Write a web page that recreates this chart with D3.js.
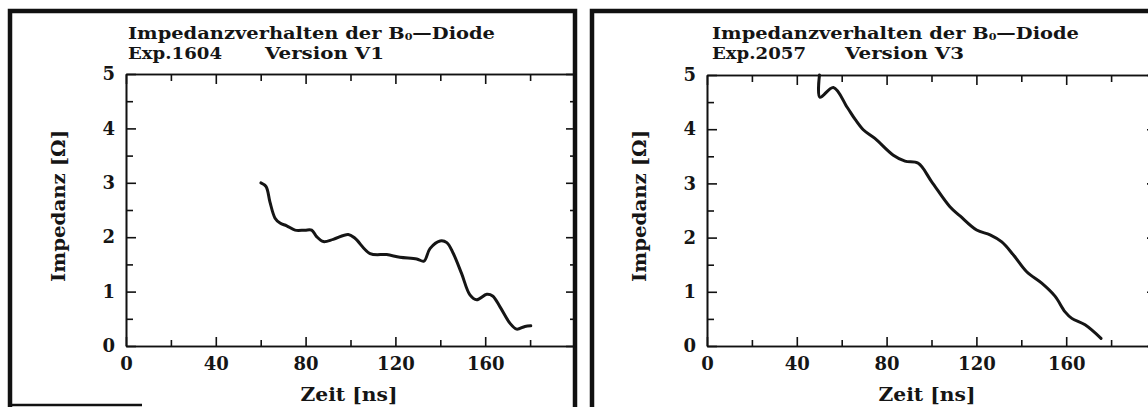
<!DOCTYPE html>
<html>
<head>
<meta charset="utf-8">
<script src="https://cdn.jsdelivr.net/npm/d3@7/dist/d3.min.js"></script>
<style>
  html, body { margin: 0; padding: 0; background: #fff; }
  svg { display: block; }
  text { font-family: "DejaVu Serif", serif; font-weight: bold; fill: #151515; }
</style>
</head>
<body>
<svg id="chart" width="1148" height="407"></svg>
<script>
// Impedance of the B0 diode, Exp.1604 (Version V1)
const timeV1 = [60.1, 62.4, 64.1, 66.4, 68.6, 71.6, 75.3, 79.7, 82.7, 84.9, 87.9, 92.3, 99.0, 102.0,
                108.7, 116.1, 122.0, 129.5, 132.7, 135.4, 139.9, 142.9, 145.8, 149.5, 153.2, 156.2,
                160.7, 163.3, 166.6, 171.0, 174.0, 177.7, 180.3];
const impedanceV1 = [3.00, 2.93, 2.65, 2.35, 2.26, 2.21, 2.13, 2.13, 2.13, 2.01, 1.92, 1.96, 2.05, 1.98,
                     1.70, 1.68, 1.63, 1.60, 1.56, 1.79, 1.93, 1.90, 1.70, 1.33, 0.94, 0.85,
                     0.95, 0.92, 0.72, 0.42, 0.31, 0.36, 0.37];

// Impedance of the B0 diode, Exp.2057 (Version V3)
const timeV3 = [50.1, 50.3, 56.3, 62.5, 66.0, 69.6, 74.8, 83.0, 88.2, 94.1, 100.1, 108.2, 112.7,
                120.1, 126.1, 131.3, 136.5, 142.4, 149.1, 155.0, 159.5, 162.5, 168.4, 175.5];
const impedanceV3 = [5.00, 4.59, 4.77, 4.40, 4.18, 3.99, 3.83, 3.52, 3.41, 3.37, 3.03, 2.57, 2.40,
                     2.14, 2.05, 1.92, 1.68, 1.37, 1.16, 0.92, 0.63, 0.51, 0.39, 0.14];

const xDomain = [0, 200];
const yDomain = [0, 5];
const xTickLabels = [0, 40, 80, 120, 160];
const yTickLabels = [0, 1, 2, 3, 4, 5];

const titleText = "Impedanzverhalten der B";
const titleSub = "0";
const titleTail = "\u2014Diode";
const experimentLabels = ["Exp.1604", "Exp.2057"];
const versionLabels = ["Version V1", "Version V3"];
const xAxisTitle = "Zeit [ns]";
const yAxisTitle = "Impedanz [\u03A9]";

const svg = d3.select("#chart");

// page frames around the two plots
const frames = svg.append("g").attr("fill", "none").attr("stroke", "#111");
frames.append("path").attr("d", "M10,407 L10,11 L575,11 L575,407").attr("stroke-width", 4.5);
frames.append("path").attr("d", "M10,405 L142,405").attr("stroke-width", 2.5);
frames.append("path").attr("d", "M592,407 L592,11 L1148,11").attr("stroke-width", 4.5);

const panels = [
  { left: 126, right: 575, top: 74, bottom: 346, time: timeV1, imp: impedanceV1,
    exp: experimentLabels[0], ver: versionLabels[0],
    titleX: 128, verX: 265, yTitleX: 65, xTitleX: 349 },
  { left: 707, right: 1156, top: 75, bottom: 346, time: timeV3, imp: impedanceV3,
    exp: experimentLabels[1], ver: versionLabels[1],
    titleX: 712, verX: 845, yTitleX: 646, xTitleX: 927 }
];

panels.forEach((p, i) => {
  const g = svg.append("g");
  const x = d3.scaleLinear().domain(xDomain).range([p.left, p.right]);
  const y = d3.scaleLinear().domain(yDomain).range([p.bottom, p.top]);

  const xMinor = x.ticks(10).filter(v => !xTickLabels.includes(v));
  const yMinor = y.ticks(10).filter(v => !yTickLabels.includes(v));
  const fmt = d3.format("d");

  const styleAxis = sel => {
    sel.select(".domain").attr("stroke", "#111").attr("stroke-width", 1.6);
    sel.selectAll(".tick line").attr("stroke", "#111").attr("stroke-width", 1.6);
    sel.selectAll(".tick text")
      .attr("font-family", "DejaVu Serif").attr("font-weight", "bold")
      .attr("font-size", 18).attr("fill", "#151515");
  };

  // bottom axis: labelled ticks every 40 ns, short ticks between, all pointing inward
  g.append("g").attr("transform", `translate(0,${p.bottom})`)
    .call(d3.axisBottom(x).tickValues(xTickLabels).tickFormat(fmt).tickSizeInner(-9).tickSizeOuter(0).tickPadding(11))
    .call(styleAxis);
  g.append("g").attr("transform", `translate(0,${p.bottom})`)
    .call(d3.axisBottom(x).tickValues(xMinor).tickSizeInner(-6).tickSizeOuter(0).tickFormat(""))
    .call(styleAxis);
  // top axis
  g.append("g").attr("transform", `translate(0,${p.top})`)
    .call(d3.axisTop(x).tickValues(xTickLabels).tickSizeInner(-10).tickSizeOuter(0).tickFormat(""))
    .call(styleAxis);
  g.append("g").attr("transform", `translate(0,${p.top})`)
    .call(d3.axisTop(x).tickValues(xMinor).tickSizeInner(-7).tickSizeOuter(0).tickFormat(""))
    .call(styleAxis);
  // left axis
  g.append("g").attr("transform", `translate(${p.left},0)`)
    .call(d3.axisLeft(y).tickValues(yTickLabels).tickFormat(fmt).tickSizeInner(-10).tickSizeOuter(0).tickPadding(11))
    .call(styleAxis);
  g.append("g").attr("transform", `translate(${p.left},0)`)
    .call(d3.axisLeft(y).tickValues(yMinor).tickSizeInner(-7).tickSizeOuter(0).tickFormat(""))
    .call(styleAxis);
  // right axis
  g.append("g").attr("transform", `translate(${p.right},0)`)
    .call(d3.axisRight(y).tickValues(yTickLabels).tickSizeInner(-9).tickSizeOuter(0).tickFormat(""))
    .call(styleAxis);
  g.append("g").attr("transform", `translate(${p.right},0)`)
    .call(d3.axisRight(y).tickValues(yMinor).tickSizeInner(-5).tickSizeOuter(0).tickFormat(""))
    .call(styleAxis);

  // impedance curve
  const pts = p.time.map((t, k) => [t, p.imp[k]]);
  const line = d3.line().x(d => x(d[0])).y(d => y(d[1])).curve(d3.curveCatmullRom.alpha(0.5));
  g.append("path").datum(pts)
    .attr("d", line)
    .attr("fill", "none").attr("stroke", "#151515").attr("stroke-width", 3)
    .attr("stroke-linejoin", "round").attr("stroke-linecap", "round");

  // two-line heading
  const t1 = g.append("text").attr("x", p.titleX).attr("y", 39).attr("font-size", 17.5)
    .attr("textLength", 367).attr("lengthAdjust", "spacingAndGlyphs");
  t1.append("tspan").text(titleText);
  t1.append("tspan").attr("font-size", 10).attr("dy", 1).text(titleSub);
  t1.append("tspan").attr("dy", -1).text(titleTail);
  g.append("text").attr("x", p.titleX).attr("y", 59).attr("font-size", 17.5)
    .attr("textLength", 94).attr("lengthAdjust", "spacingAndGlyphs").text(p.exp);
  g.append("text").attr("x", p.verX).attr("y", 59).attr("font-size", 17.5)
    .attr("textLength", 119).attr("lengthAdjust", "spacingAndGlyphs").text(p.ver);

  // axis titles
  g.append("text").attr("x", p.xTitleX).attr("y", 401).attr("font-size", 19)
    .attr("text-anchor", "middle").attr("textLength", 97).attr("lengthAdjust", "spacingAndGlyphs")
    .text(xAxisTitle);
  g.append("text").attr("transform", `translate(${p.yTitleX},206) rotate(-90)`)
    .attr("font-size", 19).attr("text-anchor", "middle")
    .attr("textLength", 152).attr("lengthAdjust", "spacingAndGlyphs")
    .text(yAxisTitle);
});
</script>
</body>
</html>
